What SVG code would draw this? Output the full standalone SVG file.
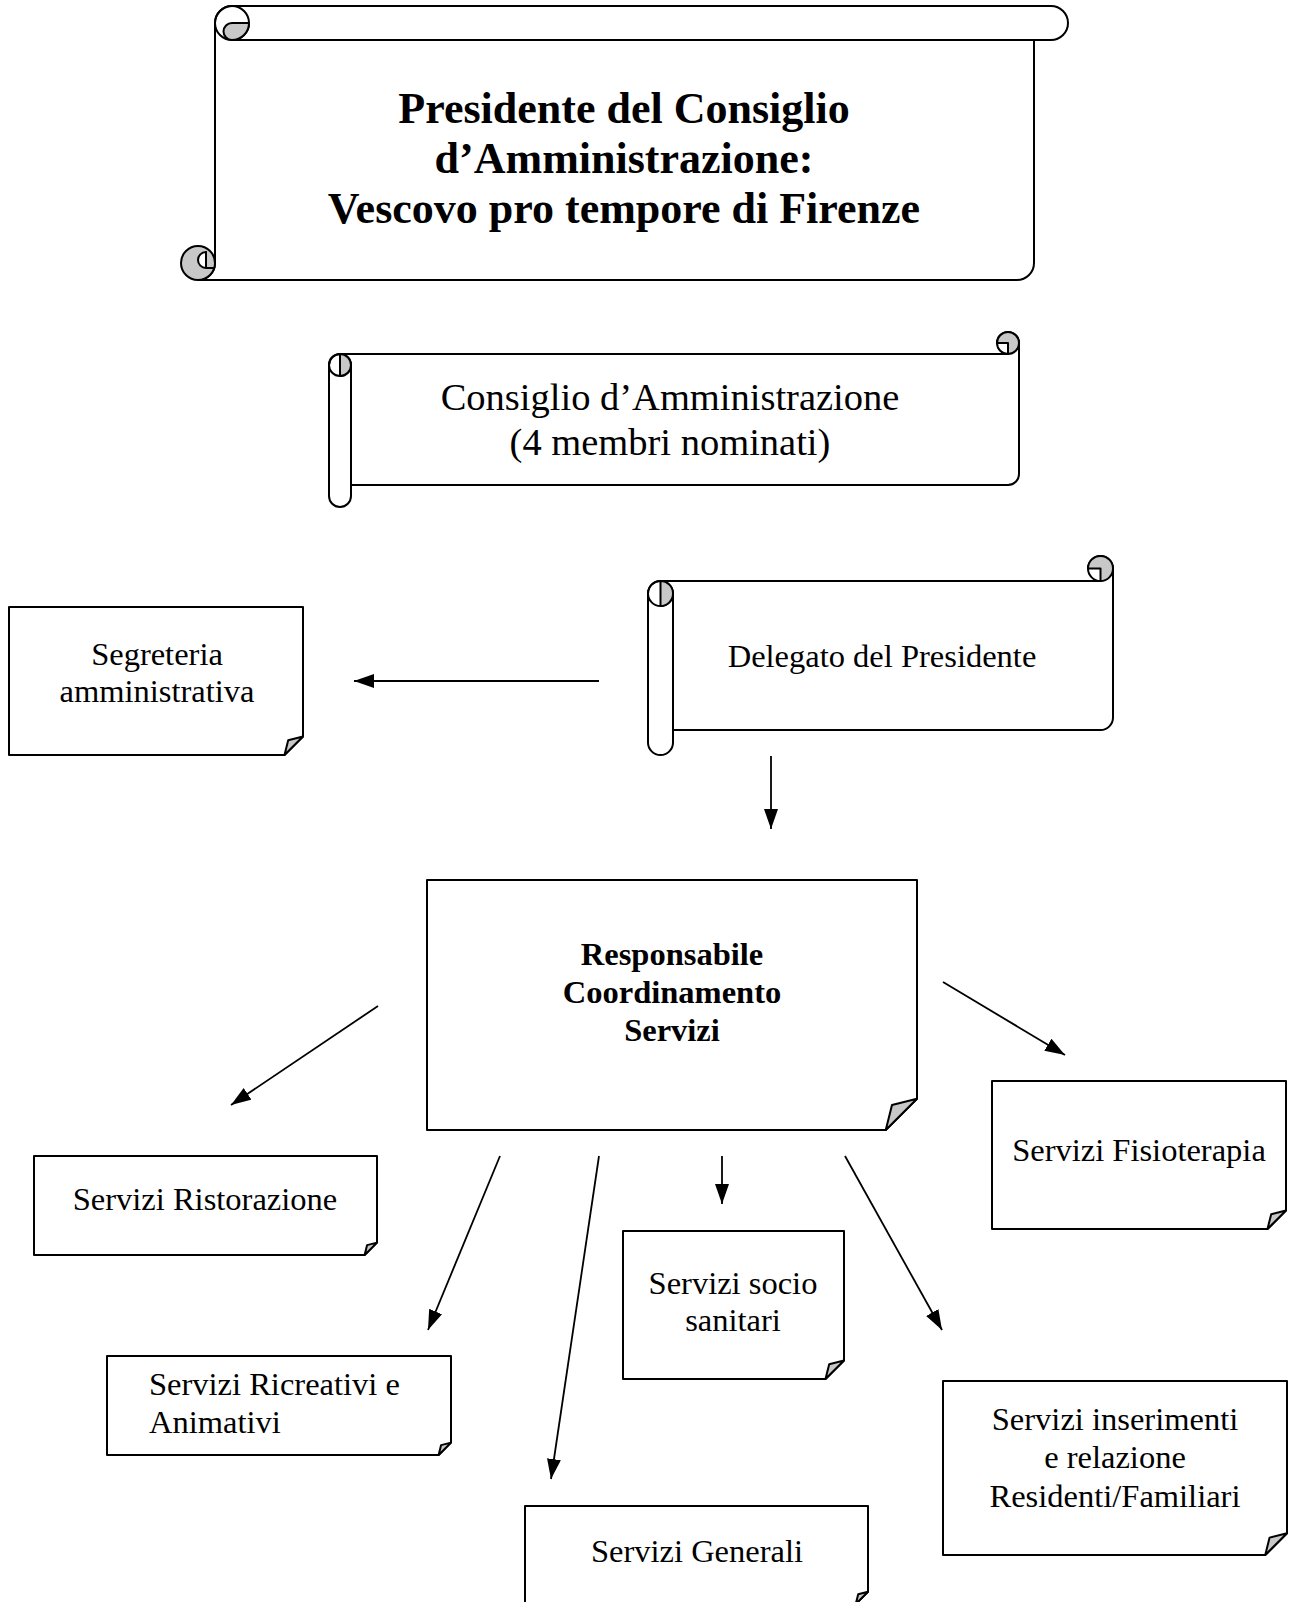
<svg xmlns="http://www.w3.org/2000/svg" width="1290" height="1602" viewBox="0 0 1290 1602">
<defs>
<style>
.sh{fill:#fff;stroke:#000;stroke-width:2;stroke-linejoin:round}
.ln{fill:none;stroke:#000;stroke-width:2}
.gr{fill:#c8c8c8;stroke:#000;stroke-width:2;stroke-linejoin:round}
.wt{fill:#fff;stroke:#000;stroke-width:2}
.t{font-family:"Liberation Serif","Times New Roman",serif;fill:#000;font-size:32.5px}
.c{text-anchor:middle}
.b{font-weight:bold}
.con{fill:none;stroke:#000;stroke-width:1.8}
</style>
<marker id="ah" markerUnits="userSpaceOnUse" markerWidth="22" markerHeight="16" refX="20" refY="7" orient="auto">
<path d="M0,0 L20,7 L0,14 Z" fill="#000"/>
</marker>
</defs>
<rect width="1290" height="1602" fill="#fff"/>

<g id="presidente">
<path class="sh" d="M198,280 A17,17 0 0 0 215,263 L215,23 A17,17 0 0 1 232,6 L1051,6 A17,17 0 0 1 1051,40 L1034,40 L1034,263 A17,17 0 0 1 1017,280 Z"/>
<path class="ln" d="M232,40 L1034,40"/>
<circle class="ln" cx="232" cy="23" r="17"/>
<path class="gr" d="M249,23 A17,17 0 0 1 232,40 A8.5,8.5 0 0 1 232,23 Z"/>
<circle class="gr" cx="198" cy="263" r="17"/>
<path class="wt" d="M206,252 A8,8 0 0 0 206,268 Z"/>
<path class="ln" d="M206,268 L215,268"/>
<text class="t c b" style="font-size:44px" x="624" y="123">Presidente del Consiglio</text>
<text class="t c b" style="font-size:44px" x="624" y="173">d’Amministrazione:</text>
<text class="t c b" style="font-size:44px" x="624" y="223">Vescovo pro tempore di Firenze</text>
</g>

<g id="consiglio">
<path class="sh" d="M1019,343 L1019,474 A11,11 0 0 1 1008,485 L351,485 L351,496 A11,11 0 0 1 329,496 L329,365 A11,11 0 0 1 340,354 L1008,354 A11,11 0 1 1 1019,343 Z"/>
<path class="ln" d="M351,365 L351,485"/>
<circle class="ln" cx="340" cy="365" r="11"/>
<path class="gr" d="M340,354 A11,11 0 0 1 340,376 Z"/>
<path class="gr" d="M1008,343 L1008,354 A11,11 0 1 0 997,343 Z"/>
<text class="t c" style="font-size:38.5px" x="670" y="410">Consiglio d’Amministrazione</text>
<text class="t c" style="font-size:38.5px" x="670" y="455">(4 membri nominati)</text>
</g>

<g id="delegato">
<path class="sh" d="M1113,568.5 L1113,717.5 A12.5,12.5 0 0 1 1100.5,730 L673,730 L673,742.5 A12.5,12.5 0 0 1 648,742.5 L648,593.5 A12.5,12.5 0 0 1 660.5,581 L1100.5,581 A12.5,12.5 0 1 1 1113,568.5 Z"/>
<path class="ln" d="M673,593.5 L673,730"/>
<circle class="ln" cx="660.5" cy="593.5" r="12.5"/>
<path class="gr" d="M660.5,581 A12.5,12.5 0 0 1 660.5,606 Z"/>
<path class="gr" d="M1100.5,568.5 L1100.5,581 A12.5,12.5 0 1 0 1088,568.5 Z"/>
<text class="t c" x="882" y="667">Delegato del Presidente</text>
</g>

<g id="segreteria">
<path class="sh" d="M9,607 L303,607 L303,736.5 L284.5,755 L9,755 Z"/>
<path class="gr" d="M284.5,755 L288.2,740.2 L303,736.5 Z"/>
<text class="t c" x="157" y="665">Segreteria</text>
<text class="t c" x="157" y="702">amministrativa</text>
</g>

<g id="responsabile">
<path class="sh" d="M427,880 L917,880 L917,1098.75 L885.75,1130 L427,1130 Z"/>
<path class="gr" d="M885.75,1130 L892,1105 L917,1098.75 Z"/>
<text class="t c b" x="672" y="965">Responsabile</text>
<text class="t c b" x="672" y="1003">Coordinamento</text>
<text class="t c b" x="672" y="1041">Servizi</text>
</g>

<g id="ristorazione">
<path class="sh" d="M34,1156 L377,1156 L377,1242.6 L364.6,1255 L34,1255 Z"/>
<path class="gr" d="M364.6,1255 L367.1,1245.1 L377,1242.6 Z"/>
<text class="t c" x="205" y="1210">Servizi Ristorazione</text>
</g>

<g id="ricreativi">
<path class="sh" d="M107,1356 L451,1356 L451,1442.6 L438.6,1455 L107,1455 Z"/>
<path class="gr" d="M438.6,1455 L441.1,1445.1 L451,1442.6 Z"/>
<text class="t" x="149" y="1395">Servizi Ricreativi e</text>
<text class="t" x="149" y="1433">Animativi</text>
</g>

<g id="generali">
<path class="sh" d="M525,1506 L868,1506 L868,1591.75 L855.75,1604 L525,1604 Z"/>
<path class="gr" d="M855.75,1604 L858.2,1594.2 L868,1591.75 Z"/>
<text class="t c" x="697" y="1562">Servizi Generali</text>
</g>

<g id="socio">
<path class="sh" d="M623,1231 L844,1231 L844,1360.5 L825.5,1379 L623,1379 Z"/>
<path class="gr" d="M825.5,1379 L829.2,1364.2 L844,1360.5 Z"/>
<text class="t c" x="733" y="1294">Servizi socio</text>
<text class="t c" x="733" y="1331">sanitari</text>
</g>

<g id="fisioterapia">
<path class="sh" d="M992,1081 L1286,1081 L1286,1210.5 L1267.5,1229 L992,1229 Z"/>
<path class="gr" d="M1267.5,1229 L1271.2,1214.2 L1286,1210.5 Z"/>
<text class="t c" x="1139" y="1161">Servizi Fisioterapia</text>
</g>

<g id="inserimenti">
<path class="sh" d="M943,1381 L1287,1381 L1287,1533.25 L1265.25,1555 L943,1555 Z"/>
<path class="gr" d="M1265.25,1555 L1269.6,1537.6 L1287,1533.25 Z"/>
<text class="t c" x="1115" y="1430">Servizi inserimenti</text>
<text class="t c" x="1115" y="1468">e relazione</text>
<text class="t c" x="1115" y="1507">Residenti/Familiari</text>
</g>

<g id="connectors">
<line class="con" x1="599" y1="681" x2="354" y2="681" marker-end="url(#ah)"/>
<line class="con" x1="771" y1="756" x2="771" y2="829" marker-end="url(#ah)"/>
<line class="con" x1="378" y1="1006" x2="231" y2="1105" marker-end="url(#ah)"/>
<line class="con" x1="943" y1="982" x2="1065" y2="1055" marker-end="url(#ah)"/>
<line class="con" x1="500" y1="1156" x2="428" y2="1330" marker-end="url(#ah)"/>
<line class="con" x1="599" y1="1156" x2="551" y2="1479" marker-end="url(#ah)"/>
<line class="con" x1="722" y1="1156" x2="722" y2="1204" marker-end="url(#ah)"/>
<line class="con" x1="845" y1="1156" x2="942" y2="1330" marker-end="url(#ah)"/>
</g>
</svg>
